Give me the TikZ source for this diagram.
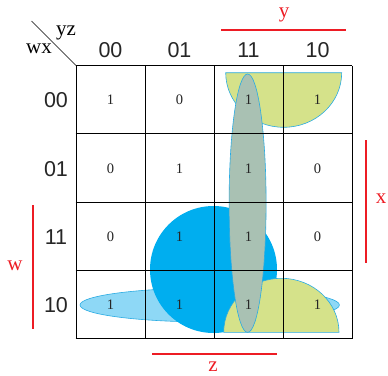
\documentclass[tikz,border=0pt]{standalone}
\usepackage{fontspec}
\setmainfont{Liberation Serif}
\newfontfamily\hdr{Liberation Sans}
\begin{document}
\begin{tikzpicture}[x=1pt,y=-1pt,
  cellnum/.style={font=\fontsize{14.5}{14.5}\selectfont, text=black!85},
  head/.style={font=\hdr\fontsize{21.5}{21.5}\selectfont, text=black!85},
  var/.style={font=\fontsize{21}{21}\selectfont, text=kred},
  redline/.style={draw=kred, line width=2pt},
  gridline/.style={draw=black, line width=0.8pt}]
\definecolor{kred}{HTML}{ED1C24}
\definecolor{yel}{HTML}{D5E28A}
\definecolor{cyb}{HTML}{29ABE2}
\definecolor{blu}{HTML}{00AEEF}
\definecolor{lblu}{HTML}{8ED8F6}
\definecolor{gry}{HTML}{A9C1B3}
\useasboundingbox (0,0) rectangle (388,375);
% groups
\fill[lblu, draw=cyb, line width=0.6pt] (209.7,305) ellipse [x radius=129.7, y radius=17];
\fill[blu] (213.5,269.5) circle [radius=63.5];
\filldraw[fill=yel, draw=cyb, line width=0.6pt] (225.7,72.7) -- (341.7,72.7) arc[start angle=0, end angle=180, x radius=58, y radius=54.6] -- cycle;
\filldraw[fill=yel, draw=cyb, line width=0.6pt] (223.7,332.3) -- (339,332.3) arc[start angle=0, end angle=180, x radius=57.65, y radius=-54] -- cycle;
\filldraw[fill=gry, draw=cyb, line width=0.6pt] (247.6,203.2) ellipse [x radius=18.5, y radius=129.2];
% grid
\foreach \i in {0,...,4} {
  \draw[gridline] (76+69*\i,65.5) -- (76+69*\i,338.5);
  \draw[gridline] (75.6,65.5+68.25*\i) -- (352.4,65.5+68.25*\i);
}
\draw[line width=0.6pt] (31.5,21) -- (76,65.5);
\node[font=\fontsize{21}{21}\selectfont] (yz) at (66,33) {yz};
\node[font=\fontsize{21}{21}\selectfont] (wx) at (39,49) {wx};
% headers
\foreach \t [count=\k from 0] in {00,01,11,10} {
  \node[head] (c\k) at (110.5+69*\k,50) {\t};
  \node[head] (r\k) at (56,100.5+68.25*\k) {\t};
}
% cells
\foreach \r/\row in {0/{1,0,1,1},1/{0,1,1,0},2/{0,1,1,0},3/{1,1,1,1}} {
  \foreach \v [count=\c from 0] in \row {
    \node[cellnum] (n\r\c) at (110.5+69*\c,100+68.25*\r) {\v};
  }
}
% variable bars
\coordinate (ya) at (221,30); \coordinate (yb) at (346,30);
\draw[redline] (ya) -- (yb);
\node[var] (ly) at (284,15) {y};
\coordinate (xa) at (365.7,140); \coordinate (xb) at (365.7,263);
\draw[redline] (xa) -- (xb);
\node[var] (lx) at (381,199) {x};
\coordinate (wa) at (33,205); \coordinate (wb) at (33,329);
\draw[redline] (wa) -- (wb);
\node[var] (lw) at (15,266) {w};
\coordinate (za) at (152,354); \coordinate (zb) at (277,354);
\draw[redline] (za) -- (zb);
\node[var] (lz) at (213,367) {z};
\end{tikzpicture}
\end{document}
